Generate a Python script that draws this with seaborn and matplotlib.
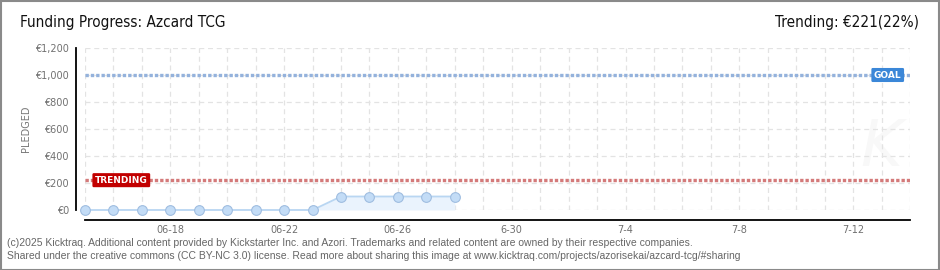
import matplotlib
matplotlib.use("Agg")
import matplotlib.pyplot as plt
import seaborn as sns
import pandas as pd
from matplotlib.patches import Rectangle

# ---------------- data ----------------
dates = ["2025-06-15", "2025-06-16", "2025-06-17", "2025-06-18", "2025-06-19",
         "2025-06-20", "2025-06-21", "2025-06-22", "2025-06-23", "2025-06-24",
         "2025-06-25", "2025-06-26", "2025-06-27", "2025-06-28"]
pledged = [0, 0, 0, 0, 0, 0, 0, 0, 0, 100, 100, 100, 100, 100]
goal = 1000
trending = 221
x_start = "2025-06-15"
x_end = "2025-07-14"
tick_dates = ["2025-06-18", "2025-06-22", "2025-06-26", "2025-06-30",
              "2025-07-04", "2025-07-08", "2025-07-12"]
tick_labels = ["06-18", "06-22", "06-26", "6-30", "7-4", "7-8", "7-12"]
y_ticks = [0, 200, 400, 600, 800, 1000, 1200]
y_labels = ["€0", "€200", "€400", "€600", "€800", "€1,000", "€1,200"]
y_minor = [100, 300, 500, 700, 900, 1100]
title = "Funding Progress: Azcard TCG"
trend_text = "Trending: €221(22%)"
footer1 = ("(c)2025 Kicktraq. Additional content provided by Kickstarter Inc. and Azori. "
           "Trademarks and related content are owned by their respective companies.")
footer2 = ("Shared under the creative commons (CC BY-NC 3.0) license. Read more about sharing "
           "this image at www.kicktraq.com/projects/azorisekai/azcard-tcg/#sharing")

df = pd.DataFrame({"date": pd.to_datetime(dates), "pledged": pledged})

# ---------------- style ----------------
sns.set_theme(style="white")
plt.rcParams["font.family"] = ["DejaVu Sans"]

W, H = 940, 270
fig = plt.figure(figsize=(W / 100, H / 100), dpi=100)
fig.patch.set_facecolor("white")
fig.add_artist(Rectangle((0.5 / W, 0.5 / H), 1 - 1.5 / W, 1 - 1.5 / H,
                         transform=fig.transFigure, fill=False,
                         edgecolor="#8a8a8a", lw=1.5))

ax = fig.add_axes([85 / W, 1 - 210 / H, 825 / W, 162 / H])
ax.set_facecolor("white")

# fill under series
ax.fill_between(df["date"], df["pledged"], 0, color="#eaf3fd", lw=0, zorder=1)

sns.lineplot(data=df, x="date", y="pledged", ax=ax, color="#b9d6f2", lw=1.3,
             marker="o", markersize=7, markerfacecolor="#c3dcf6",
             markeredgecolor="#9fbde0", markeredgewidth=0.8, zorder=4,
             clip_on=False)

# goal / trending lines
ax.axhline(goal, color="#94b2dc", lw=2.4, ls=(0, (1.0, 0.6)), zorder=3)
ax.axhline(trending, color="#d47a7a", lw=2.4, ls=(0, (1.0, 0.6)), zorder=3)

ax.set_xlim(pd.Timestamp(x_start), pd.Timestamp(x_end))
ax.set_ylim(0, 1200)

# ticks / grid
all_days = pd.date_range(x_start, x_end, freq="D")
lab_map = dict(zip(pd.to_datetime(tick_dates), tick_labels))
ax.set_xticks(all_days)
ax.set_xticklabels([lab_map.get(d, "") for d in all_days])
ax.set_yticks(y_ticks)
ax.set_yticklabels(y_labels)
ax.set_yticks(y_minor, minor=True)
ax.grid(True, which="major", color="#e3e3e3", lw=0.9, ls=(0, (4, 3)), zorder=0)

for s in ["top", "right"]:
    ax.spines[s].set_visible(False)
ax.spines["left"].set_position(("outward", 6.5))
ax.spines["bottom"].set_position(("outward", 7.2))
ax.spines["left"].set_color("black")
ax.spines["bottom"].set_color("black")
ax.spines["left"].set_linewidth(1.3)
ax.spines["bottom"].set_linewidth(1.3)

ax.tick_params(axis="y", which="major", direction="inout", length=6, width=1.1,
               color="black", labelsize=7, labelcolor="#707070", pad=2)
ax.tick_params(axis="y", which="minor", direction="out", length=3, width=1.1,
               color="#e00000")
ax.tick_params(axis="x", which="major", direction="inout", length=6, width=1.1,
               color="black", labelsize=7, labelcolor="#707070", pad=0.5)
ax.set_xlabel("")
ax.set_ylabel("PLEDGED", fontsize=7, color="#777777", labelpad=3)

# labels on lines
ax.text(0.973, goal, "GOAL", transform=ax.get_yaxis_transform(), ha="center",
        va="center", fontsize=6.5, color="white", fontweight="bold", zorder=6,
        bbox=dict(boxstyle="round,pad=0.28,rounding_size=0.15", fc="#3b87d8", ec="none"))
ax.text(0.044, trending, "TRENDING", transform=ax.get_yaxis_transform(), ha="center",
        va="center", fontsize=6.5, color="white", fontweight="bold", zorder=6,
        bbox=dict(boxstyle="round,pad=0.28,rounding_size=0.15", fc="#c20000", ec="none"))

# watermark
ax.text(0.965, 0.38, "K", transform=ax.transAxes, fontsize=46, color="#f8f8f8",
        style="italic", ha="center", va="center", zorder=0)

# titles
fig.text(20 / W, 1 - 22 / H, title, fontsize=11, color="#111111", va="center",
         ha="left", stretch="condensed")
fig.text(919 / W, 1 - 22 / H, trend_text, fontsize=11, color="#111111",
         va="center", ha="right", stretch="condensed")

fig.text(7 / W, 1 - 243 / H, footer1, fontsize=7.5, color="#666666",
         va="center", ha="left", family=["Liberation Sans", "DejaVu Sans"])
fig.text(7 / W, 1 - 256 / H, footer2, fontsize=7.5, color="#666666",
         va="center", ha="left", family=["Liberation Sans", "DejaVu Sans"])

fig.savefig("out.png", dpi=100, facecolor="white")
